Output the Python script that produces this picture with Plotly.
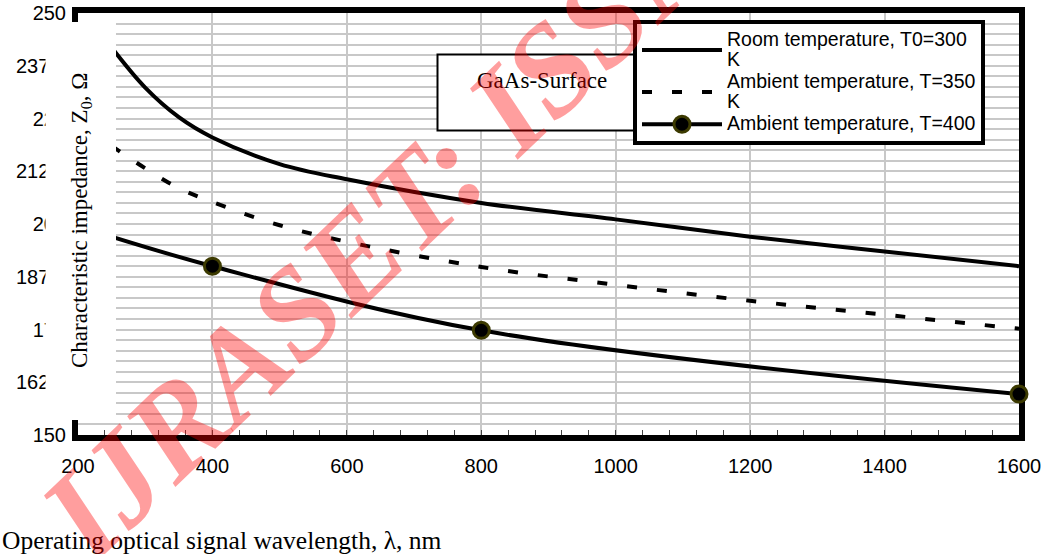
import plotly.graph_objects as go

# ---- data ----
wavelength_dense = [250, 300, 350, 400, 500, 600, 800, 1000, 1200, 1400, 1600]
z_room_300 = [241.8, 232.3, 225.3, 220.5, 214.2, 210.6, 205.0, 201.1, 197.0, 193.5, 190.0]
z_amb_350 = [218.5, 213.2, 208.5, 205.2, 199.7, 195.8, 189.8, 185.6, 181.8, 178.5, 175.2]
wavelength_pts = [200, 400, 800, 1600]
z_amb_400 = [199.5, 190.0, 174.8, 159.7]

series_names = [
    "Room temperature, T0=300<br>K",
    "Ambient temperature, T=350<br>K",
    "Ambient temperature, T=400",
]
x_ticks = [200, 400, 600, 800, 1000, 1200, 1400, 1600]
y_ticks = [150, 162.5, 175, 187.5, 200, 212.5, 225, 237.5, 250]
y_ticktext = ["150", "162.5", "175", "187.5", "200", "212.5", "225", "237.5", "250"]

W, H = 1044, 554
L, R, T, B = 78, 25, 13, 119
PW, PH = W - L - R, H - T - B


def px(xp):
    return (xp - L) / PW


def py(yp):
    return (H - B - yp) / PH


def legend_label(name):
    lines = name.split("<br>")
    return "<br>".join('<span style="font-size:19.5px">%s</span>' % s for s in lines)


fig = go.Figure()
fig.add_trace(go.Scatter(
    x=wavelength_dense, y=z_room_300, name=legend_label(series_names[0]), mode="lines",
    line=dict(color="black", width=4, shape="spline"),
))
fig.add_trace(go.Scatter(
    x=wavelength_dense, y=z_amb_350, name=legend_label(series_names[1]), mode="lines",
    line=dict(color="black", width=4, dash="10px,20px", shape="spline"),
))
fig.add_trace(go.Scatter(
    x=wavelength_pts, y=z_amb_400, name=legend_label(series_names[2]), mode="lines+markers",
    line=dict(color="black", width=4, shape="spline"),
    marker=dict(color="black", size=16, line=dict(color="#3c3a00", width=3)),
    cliponaxis=False,
))

grid_col = "#c8c8c8"
tick_font = dict(family="Liberation Sans, Arial", size=20, color="black")
fig.update_xaxes(
    range=[200, 1600], tickvals=x_ticks, ticktext=[str(v) for v in x_ticks],
    showgrid=True, gridcolor=grid_col, gridwidth=1.5,
    showline=True, linecolor="black", linewidth=6, mirror=True,
    ticks="inside", ticklen=5, tickcolor="#444", tickwidth=1,
    minor=dict(dtick=40, tick0=200, ticks="inside", ticklen=5, tickcolor="#444", tickwidth=1, showgrid=False),
    tickfont=tick_font, ticklabelstandoff=8, zeroline=False, layer="below traces",
)
fig.update_yaxes(
    range=[150, 250], tickvals=y_ticks, ticktext=y_ticktext,
    showgrid=True, gridcolor=grid_col, gridwidth=1.5,
    minor=dict(dtick=2.5, tick0=150, showgrid=True, gridcolor=grid_col, gridwidth=1.5),
    showline=True, linecolor="black", linewidth=6, mirror=True,
    ticks="", tickfont=tick_font, ticklabelstandoff=2, zeroline=False, layer="below traces",
)

shapes = [
    # white panel under the y-axis title (covers part of the plot and tick labels)
    dict(type="rect", xref="paper", yref="paper", x0=px(45.5), x1=px(116), y0=py(420), y1=py(22),
         fillcolor="white", line=dict(width=0), layer="above"),
    # GaAs-Surface text box
    dict(type="rect", xref="paper", yref="paper", x0=px(437.5), x1=px(646), y0=py(130.5), y1=py(54.5),
         fillcolor="white", line=dict(color="black", width=2), layer="above"),
]

annotations = [
    dict(text="GaAs-Surface", xref="paper", yref="paper", x=px(541.5), y=py(80),
         showarrow=False, xanchor="center", yanchor="middle",
         font=dict(family="Liberation Serif, Times New Roman", size=23, color="black")),
    dict(text="Characteristic impedance, Z<sub>0</sub>, Ω", xref="paper", yref="paper",
         x=px(81), y=py(221), textangle=-90, showarrow=False, xanchor="center", yanchor="middle",
         font=dict(family="Liberation Serif, Times New Roman", size=23, color="black")),
    dict(text="Operating optical signal wavelength, λ, nm", xref="paper", yref="paper",
         x=px(0), y=py(540), showarrow=False, xanchor="left", yanchor="middle",
         font=dict(family="Liberation Serif, Times New Roman", size=25.5, color="black")),
    dict(text="<b><i>IJRASET: ISSN: 2321-9653</i></b>", xref="paper", yref="paper",
         x=px(608), y=py(14), textangle=-43.7, showarrow=False, xanchor="center", yanchor="middle",
         font=dict(family="Liberation Serif, Times New Roman", size=129, color="rgba(255,0,0,0.38)")),
]

fig.update_layout(
    width=W, height=H, margin=dict(l=L, r=R, t=T, b=B, autoexpand=False),
    paper_bgcolor="white", plot_bgcolor="white",
    showlegend=True,
    legend=dict(x=px(633), y=py(20), xanchor="left", yanchor="top",
                bgcolor="white", bordercolor="black", borderwidth=4,
                font=dict(family="Liberation Sans, Arial", size=15, color="black"),
                itemwidth=80, tracegroupgap=0),
    shapes=shapes, annotations=annotations,
)

fig.write_html("out.html")
